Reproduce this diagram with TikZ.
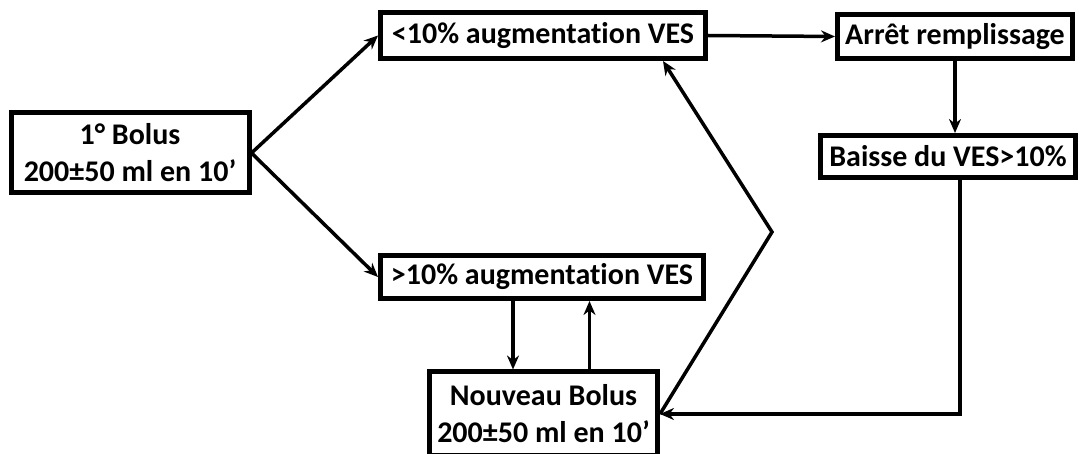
\documentclass[tikz,border=0pt]{standalone}
\usepackage{fontspec}
\setmainfont[Ligatures={NoCommon,NoContextual}]{Carlito}
\usetikzlibrary{arrows.meta}
\begin{document}
\begin{tikzpicture}[x=1pt,y=-1pt,
    boite/.style={draw,line width=5pt,inner sep=0pt,align=center,
      font=\bfseries\fontsize{30}{37}\selectfont},
    fleche/.style={-{Stealth[length=14pt,width=12pt]},line width=3.5pt}]
            \useasboundingbox (0,0) rectangle (1080,454);

            \node[boite,minimum width=238pt,minimum height=80pt] (bolus) at (130,153) {1° Bolus\\200±50 ml en 10’};
            \node[boite,minimum width=325pt,minimum height=46pt] (moins) at (543,35.5) {<10\% augmentation VES};
            \node[boite,minimum width=235pt,minimum height=44pt] (arret) at (955,36.5) {Arrêt remplissage};
            \node[boite,minimum width=255pt,minimum height=42pt] (baisse) at (948,156.5) {Baisse du VES>10\%};
            \node[boite,minimum width=323pt,minimum height=43pt] (plus) at (542,277) {>10\% augmentation VES};
            \node[boite,minimum width=228pt,minimum height=84pt] (nouveau) at (543.5,414) {Nouveau Bolus\\200±50 ml en 10’};

            \coordinate (coude) at (772,232);

            \draw[fleche] (bolus.east) -- (moins.west);
            \draw[fleche] (bolus.east) -- (plus.west);
            \draw[fleche] (moins.east) -- (arret.west);
            \draw[fleche] (arret.south) -- (arret.south |- baisse.north);
            \draw[fleche] ([xshift=12pt]baisse.south) |- (nouveau.east);
            \draw[fleche] ([xshift=-29pt]plus.south) -- ([xshift=-29pt]plus.south |- nouveau.north);
            \draw[fleche] ([xshift=46pt]nouveau.north) -- ([xshift=46pt]nouveau.north |- plus.south);
            \draw[fleche] (nouveau.east) -- (coude) -- ([xshift=120pt]moins.south);
        \end{tikzpicture}
\end{document}
